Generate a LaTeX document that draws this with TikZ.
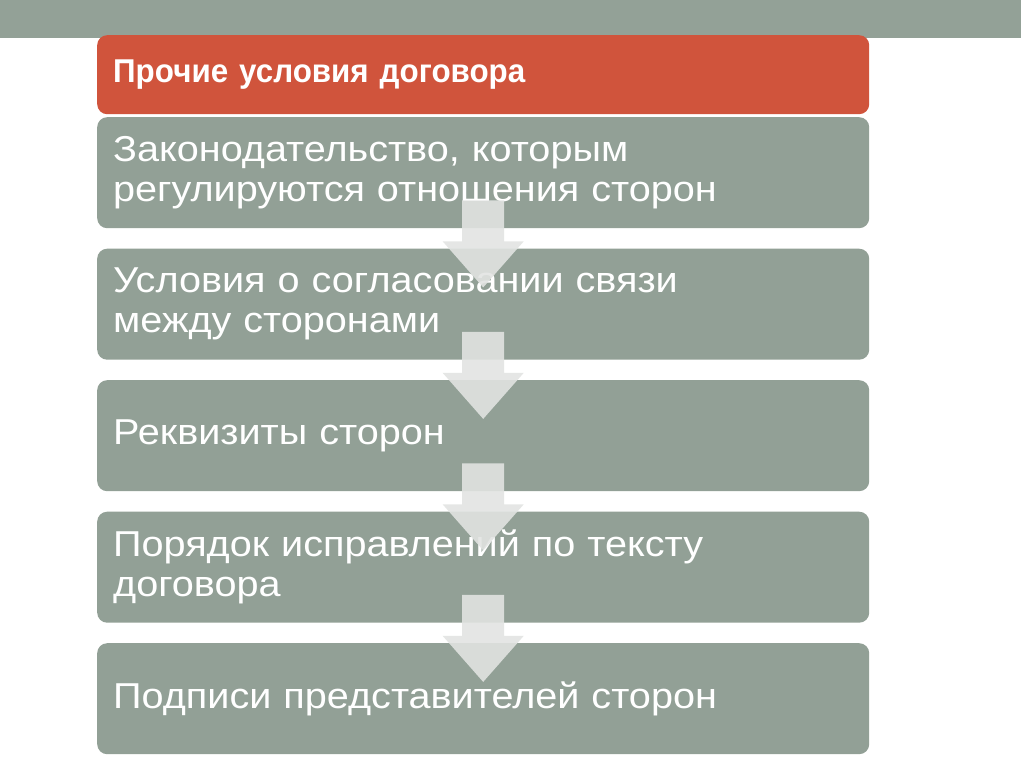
\documentclass[tikz,border=0pt]{standalone}
\usepackage{fontspec}
\setmainfont{Liberation Sans}
\newfontfamily\boxfont[FakeStretch=1.1]{Liberation Sans}
\newfontfamily\headfont[FakeStretch=0.95]{Liberation Sans}
\usetikzlibrary{calc}

\definecolor{bargray}{HTML}{93A197}
\definecolor{boxgray}{HTML}{92A096}
\definecolor{headred}{HTML}{D0543C}
\definecolor{arrowgray}{HTML}{E2E4E2}

\tikzset{
	stepbox/.style={rectangle, rounded corners=10pt, fill=boxgray, text=white,
		minimum width=772pt, minimum height=111pt, text width=740pt,
		inner xsep=16pt, align=left, anchor=north west,
		font=\boxfont\fontsize{36}{40}\selectfont},
	headbox/.style={stepbox, fill=headred, minimum height=79pt,
		font=\headfont\bfseries\fontsize{33}{38}\selectfont},
	arrowfill/.style={fill=arrowgray, fill opacity=0.89}
}

% down arrow hanging below the bottom of a box
\newcommand{\flowarrow}[1]{%
	\fill[arrowfill] ($(#1.south)+(0,-28)$) ++(-21,0) -- ++(42,0) -- ++(0,41)
		-- ++(19.5,0) -- ++(-40.5,46) -- ++(-40.5,-46) -- ++(19.5,0) -- cycle;
}

\begin{document}
\begin{tikzpicture}[x=1pt, y=-1pt]
	\useasboundingbox (0,0) rectangle (1024,767);
	\fill[white] (0,0) rectangle (1024,767);

	% top band
	\fill[bargray] (0,0) rectangle (1021,38);

	\node[headbox] (head) at (97,35) {Прочие условия договора};

	\node[stepbox] (s1) at (97,117) {Законодательство, которым\\регулируются отношения сторон};
	\node[stepbox] (s2) at (97,248.5) {Условия о согласовании связи\\между сторонами};
	\node[stepbox] (s3) at (97,380) {Реквизиты сторон};
	\node[stepbox] (s4) at (97,511.5) {Порядок исправлений по тексту\\договора};
	\node[stepbox] (s5) at (97,643) {Подписи представителей сторон};

	% arrows over the boxes
	\flowarrow{s1}
	\flowarrow{s2}
	\flowarrow{s3}
	\flowarrow{s4}
\end{tikzpicture}
\end{document}
